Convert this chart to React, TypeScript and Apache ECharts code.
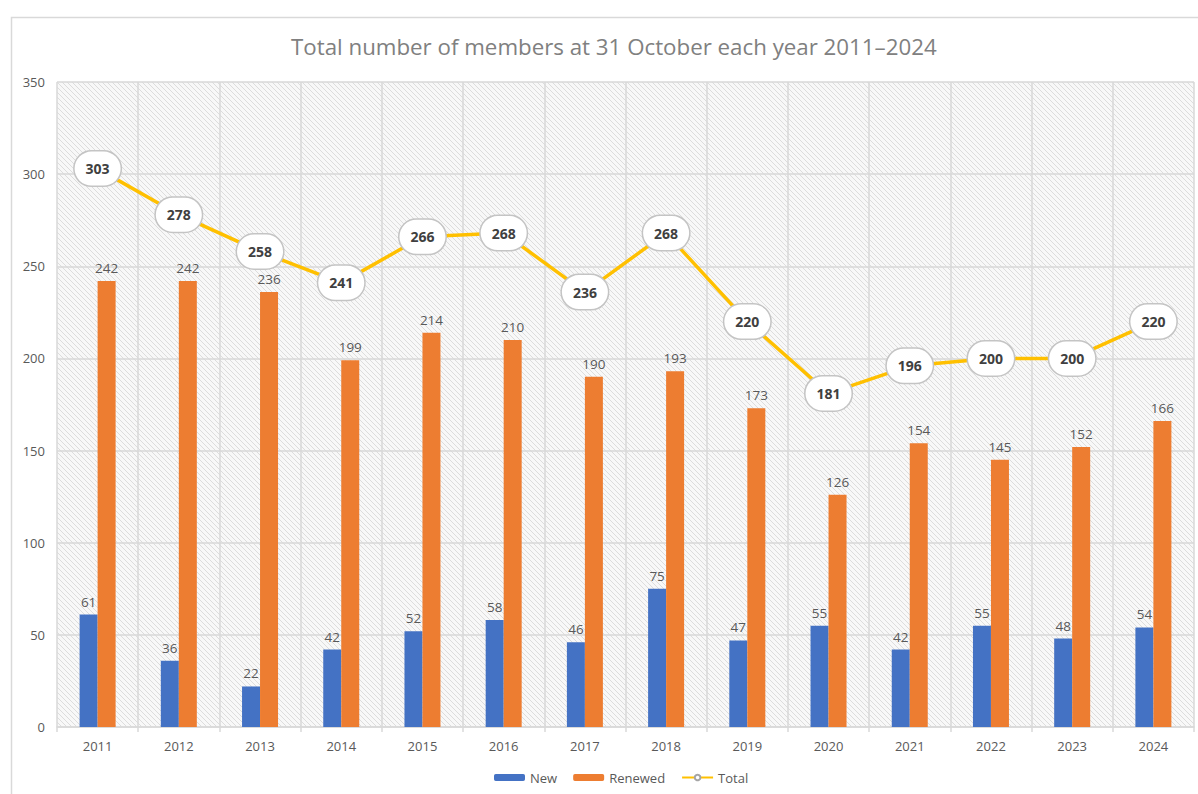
import React, { useEffect, useRef } from "react";
import * as echarts from "echarts";

const years = ["2011", "2012", "2013", "2014", "2015", "2016", "2017", "2018", "2019", "2020", "2021", "2022", "2023", "2024"];
const newMembers = [61, 36, 22, 42, 52, 58, 46, 75, 47, 55, 42, 55, 48, 54];
const renewed = [242, 242, 236, 199, 214, 210, 190, 193, 173, 126, 154, 145, 152, 166];
const total = [303, 278, 258, 241, 266, 268, 236, 268, 220, 181, 196, 200, 200, 220];
const titleText = "Total number of members at 31 October each year 2011\u20132024";

const FONT = "'Open Sans', 'Noto Sans', sans-serif";

const hatch =
  "data:image/svg+xml;utf8," +
  encodeURIComponent(
    "<svg xmlns='http://www.w3.org/2000/svg' width='5' height='5'><rect width='5' height='5' fill='#f8f8f8'/><path d='M-1,-1 L6,6 M-1,4 L1,6 M4,-1 L6,1' stroke='#dcdcdc' stroke-width='1'/></svg>"
  );

export default function App() {
  const ref = useRef<HTMLDivElement>(null);
  useEffect(() => {
    document.body.style.margin = "0";
    const chart = echarts.init(ref.current!, null, { renderer: "svg" });
    chart.setOption({
      animation: false,
      backgroundColor: "#ffffff",
      title: {
        text: titleText,
        left: 286,
        top: 30,
        textStyle: { fontFamily: FONT, fontSize: 22.3, fontWeight: "normal", color: "#808080" },
      },
      graphic: [
        {
          type: "rect",
          shape: { x: 11.5, y: 17.5, width: 1220, height: 820 },
          style: { fill: "none", stroke: "#d9d9d9", lineWidth: 1.5 },
          silent: true,
          z: -10,
        },
      ],
      grid: {
        left: 57,
        right: 4,
        top: 82,
        bottom: 67,
        show: true,
        borderWidth: 0,
        backgroundColor: { image: hatch, repeat: "repeat" },
      },
      legend: {
        bottom: 5,
        left: 489,
        itemWidth: 31,
        itemHeight: 7,
        itemGap: 16,
        textStyle: { fontFamily: FONT, fontSize: 13, color: "#595959" },
        data: ["New", "Renewed", "Total"],
      },
      xAxis: {
        type: "category",
        data: years,
        axisLine: { show: true, lineStyle: { color: "#d9d9d9", width: 1.5 } },
        axisTick: { show: true, length: 5, lineStyle: { color: "#d9d9d9", width: 1.5 } },
        splitLine: { show: true, lineStyle: { color: "#d9d9d9", width: 1.5 } },
        axisLabel: { fontFamily: FONT, fontSize: 13, color: "#595959", margin: 12 },
      },
      yAxis: {
        type: "value",
        min: 0,
        max: 350,
        interval: 50,
        axisLine: { show: false },
        axisTick: { show: false },
        splitLine: { show: true, lineStyle: { color: "#d9d9d9", width: 1.5 } },
        axisLabel: { fontFamily: FONT, fontSize: 13, color: "#595959", margin: 12 },
      },
      series: [
        {
          name: "New",
          type: "bar",
          data: newMembers,
          barWidth: 18,
          barGap: "0%",
          itemStyle: { color: "#4472C4" },
          label: {
            show: true,
            position: "top",
            distance: 6,
            fontFamily: FONT,
            fontSize: 13.5,
            color: "#595959",
          },
        },
        {
          name: "Renewed",
          type: "bar",
          data: renewed,
          barWidth: 18,
          barGap: "0%",
          itemStyle: { color: "#ED7D31" },
          label: {
            show: true,
            position: "top",
            distance: 6,
            fontFamily: FONT,
            fontSize: 13.5,
            color: "#595959",
          },
        },
        {
          name: "Total",
          type: "line",
          data: total,
          symbol: "circle",
          symbolSize: 8,
          lineStyle: { color: "#FFC000", width: 3.5 },
          itemStyle: { color: "#ffffff", borderColor: "#a5a5a5", borderWidth: 2 },
          z: 5,
          label: {
            show: true,
            position: "inside",
            fontFamily: FONT,
            fontSize: 14,
            fontWeight: "bold",
            color: "#404040",
            backgroundColor: "#ffffff",
            borderColor: "#c4c4c4",
            borderWidth: 1.5,
            borderRadius: 20,
            padding: [9, 11],
            lineHeight: 16,
          },
        },
      ],
    });
    return () => chart.dispose();
  }, []);
  return <div ref={ref} style={{ position: "absolute", left: 0, top: 0, width: 1198, height: 794 }} />;
}
